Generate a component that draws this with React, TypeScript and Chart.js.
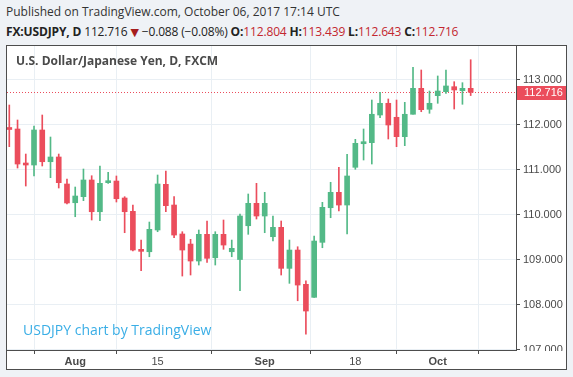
import React, { useEffect, useRef } from 'react';
import { Chart, registerables } from 'chart.js';

Chart.register(...registerables);

// ---- Data (daily candles, FX:USDJPY) ----
const dates = [
  '2017-07-20', '2017-07-21', '2017-07-24', '2017-07-25', '2017-07-26', '2017-07-27', '2017-07-28', '2017-07-31',
  '2017-08-01', '2017-08-02', '2017-08-03', '2017-08-04', '2017-08-07', '2017-08-08', '2017-08-09', '2017-08-10',
  '2017-08-11', '2017-08-14', '2017-08-15', '2017-08-16', '2017-08-17', '2017-08-18', '2017-08-21', '2017-08-22',
  '2017-08-23', '2017-08-24', '2017-08-25', '2017-08-28', '2017-08-29', '2017-08-30', '2017-08-31', '2017-09-01',
  '2017-09-04', '2017-09-05', '2017-09-06', '2017-09-07', '2017-09-08', '2017-09-11', '2017-09-12', '2017-09-13',
  '2017-09-14', '2017-09-15', '2017-09-18', '2017-09-19', '2017-09-20', '2017-09-21', '2017-09-22', '2017-09-25',
  '2017-09-26', '2017-09-27', '2017-09-28', '2017-09-29', '2017-10-02', '2017-10-03', '2017-10-04', '2017-10-05',
  '2017-10-06',
];

const opens = [
  111.933, 111.9, 111.133, 111.1, 111.878, 111.173, 111.278, 110.678,
  110.262, 110.396, 110.767, 110.062, 110.707, 110.744, 110.367, 110.071,
  109.227, 109.173, 109.656, 110.671, 110.211, 109.567, 109.344, 108.967,
  109.56, 109.04, 109.56, 109.173, 109.0, 109.751, 110.249, 109.967,
  109.507, 109.716, 108.804, 109.211, 108.449, 108.16, 109.382, 110.151,
  110.493, 110.211, 111.049, 111.573, 111.596, 112.211, 112.471, 112.16,
  111.729, 112.227, 112.804, 112.338, 112.64, 112.729, 112.84, 112.751,
  112.804,
];

const highs = [
  112.433, 112.1, 111.344, 111.967, 112.211, 111.722, 111.344, 110.789,
  110.611, 111.011, 110.862, 111.078, 110.938, 110.856, 110.396, 110.211,
  109.433, 109.833, 110.878, 110.967, 110.396, 109.618, 109.449, 109.656,
  109.856, 109.618, 109.878, 109.433, 110.011, 110.456, 110.693, 110.493,
  109.967, 109.856, 109.433, 109.284, 108.529, 109.522, 110.271, 110.716,
  111.049, 111.338, 111.671, 111.9, 112.544, 112.716, 112.567, 112.544,
  112.493, 113.271, 113.211, 112.744, 113.078, 113.211, 112.951, 112.929,
  113.439,
];

const lows = [
  111.507, 111.033, 110.633, 110.856, 111.078, 110.818, 110.589, 110.233,
  109.951, 110.307, 109.878, 109.862, 110.693, 110.278, 109.596, 109.189,
  108.751, 109.062, 109.618, 110.062, 109.484, 108.633, 108.656, 108.878,
  108.938, 108.878, 109.227, 109.062, 108.307, 109.56, 109.9, 109.596,
  109.411, 108.656, 108.471, 108.084, 107.344, 108.16, 109.262, 109.929,
  110.078, 109.567, 111.004, 111.211, 111.122, 112.151, 111.678, 111.507,
  111.529, 112.227, 112.284, 112.249, 112.471, 112.693, 112.344, 112.449,
  112.643,
];

const closes = [
  111.889, 111.122, 111.1, 111.878, 111.173, 111.278, 110.707, 110.256,
  110.411, 110.767, 110.062, 110.693, 110.744, 110.351, 110.062, 109.211,
  109.182, 109.671, 110.678, 110.196, 109.544, 109.211, 108.967, 109.56,
  109.027, 109.56, 109.322, 109.249, 109.967, 110.249, 109.967, 110.249,
  109.716, 108.804, 109.211, 108.433, 107.856, 109.411, 110.16, 110.493,
  110.211, 110.856, 111.582, 111.604, 112.227, 112.471, 111.989, 111.729,
  112.227, 112.804, 112.33, 112.471, 112.744, 112.856, 112.767, 112.804,
  112.716,
];

const yTickValues = [107, 108, 109, 110, 111, 112, 113];
const xTickDates = ['2017-08-01', '2017-08-15', '2017-09-01', '2017-09-18', '2017-10-02'];
const xTickLabels = ['Aug', '15', 'Sep', '18', 'Oct'];
const monthLabels = ['Aug', 'Sep', 'Oct'];
const lastPrice = 112.716;
const symbolTitle = 'U.S. Dollar/Japanese Yen, D, FXCM';
const watermark = 'USDJPY chart by TradingView';

const UP = '#53b987';
const DOWN = '#eb4d5c';
const GRID = '#e9eff4';
const AXIS = '#4d4d4d';
const TEXT = '#4a4a4a';
const RED_TXT = '#c3272f';

export default function App() {
  const ref = useRef<HTMLCanvasElement>(null);

  useEffect(() => {
    document.body.style.margin = '0';
    const canvas = ref.current;
    if (!canvas) return;

    const tickIdx = xTickDates.map((d) => dates.indexOf(d));
    const colors = closes.map((c, i) => (c >= opens[i] ? UP : DOWN));
    const wickData = dates.map((_, i) => ({ x: i, y: [lows[i], highs[i]] }));
    const bodyData = dates.map((_, i) => ({ x: i, y: [opens[i], closes[i]] }));

    const overlay = {
      id: 'tvOverlay',
      beforeDatasetsDraw(chart: any) {
        const { ctx, chartArea } = chart;
        const y = chart.scales.y.getPixelForValue(lastPrice);
        ctx.save();
        ctx.beginPath();
        ctx.rect(chartArea.left, chartArea.top, chartArea.right - chartArea.left, chartArea.bottom - chartArea.top);
        ctx.clip();
        ctx.strokeStyle = DOWN;
        ctx.lineWidth = 1;
        ctx.setLineDash([1, 2]);
        ctx.beginPath();
        const yy = Math.round(y) + 0.5;
        ctx.moveTo(chartArea.left, yy);
        ctx.lineTo(chartArea.right, yy);
        ctx.stroke();
        ctx.setLineDash([]);
        // watermark
        ctx.fillStyle = '#3aaee6';
        ctx.font = '14px "Open Sans", sans-serif';
        ctx.textBaseline = 'middle';
        ctx.textAlign = 'left';
        ctx.fillText(watermark, chartArea.left + 16, chartArea.bottom - 19);
        ctx.restore();
      },
      afterDraw(chart: any) {
        const { ctx, chartArea, width, height } = chart;
        ctx.save();
        // hide axis label overflow below the price pane
        ctx.fillStyle = '#ffffff';
        ctx.fillRect(chartArea.right + 1, chartArea.bottom + 1, width - chartArea.right - 1, height - chartArea.bottom - 1);
        // symbol title
        ctx.fillStyle = TEXT;
        ctx.font = 'bold 12px "Open Sans", sans-serif';
        ctx.textBaseline = 'middle';
        ctx.textAlign = 'left';
        ctx.fillText(symbolTitle, chartArea.left + 9, chartArea.top + 16);
        // last price label
        const y = chart.scales.y.getPixelForValue(lastPrice);
        ctx.fillStyle = DOWN;
        ctx.fillRect(chartArea.right + 1, Math.round(y) - 6, width - chartArea.right - 1, 14);
        ctx.fillStyle = '#ffffff';
        ctx.font = '11px "Liberation Sans", Arial, sans-serif';
        ctx.fillText(lastPrice.toFixed(3), chartArea.right + 8, Math.round(y) + 1);
        ctx.restore();
      },
    };

    const chart = new Chart(canvas, {
      type: 'bar',
      data: {
        datasets: [
          {
            label: 'wick',
            data: wickData as any,
            backgroundColor: colors,
            borderWidth: 0,
            barThickness: 1,
            grouped: false,
            order: 1,
          } as any,
          {
            label: 'body',
            data: bodyData as any,
            backgroundColor: colors,
            borderWidth: 0,
            barThickness: 5,
            minBarLength: 2,
            grouped: false,
            order: 0,
          } as any,
        ],
      },
      options: {
        animation: false,
        responsive: false,
        events: [],
        layout: { padding: 0 },
        plugins: { legend: { display: false }, tooltip: { enabled: false }, title: { display: false } },
        scales: {
          x: {
            type: 'linear',
            min: -0.279,
            max: 61.5,
            offset: false,
            grid: { color: GRID, tickColor: AXIS, tickLength: 4, drawTicks: true },
            border: { color: AXIS, width: 1 },
            afterBuildTicks: (s: any) => {
              s.ticks = tickIdx.map((v) => ({ value: v }));
            },
            afterFit: (s: any) => {
              s.height = 19;
              s.paddingLeft = 0;
              s.paddingRight = 0;
            },
            ticks: {
              autoSkip: false,
              maxRotation: 0,
              padding: 1,
              color: TEXT,
              font: (c: any) => ({
                family: '"Liberation Sans", Arial, sans-serif',
                size: 11,
                weight: c.tick && monthLabels.includes(c.tick.label) ? 'bold' : 'normal',
              }),
              callback: (v: any) => {
                const k = tickIdx.indexOf(Number(v));
                return k >= 0 ? xTickLabels[k] : '';
              },
            },
          },
          y: {
            position: 'right',
            min: 106.99,
            max: 113.744,
            grid: { color: GRID, tickColor: AXIS, tickLength: 4, drawTicks: true },
            border: { color: AXIS, width: 1 },
            afterBuildTicks: (s: any) => {
              s.ticks = yTickValues.map((v) => ({ value: v }));
            },
            afterFit: (s: any) => {
              s.width = 50;
              s.paddingTop = 0;
              s.paddingBottom = 0;
            },
            ticks: {
              padding: 3,
              color: TEXT,
              font: { family: '"Liberation Sans", Arial, sans-serif', size: 11 },
              callback: (v: any) => Number(v).toFixed(3),
            },
          },
        },
      },
      plugins: [overlay],
    });

    return () => chart.destroy();
  }, []);

  const red = { color: RED_TXT };
  return (
    <div
      style={{
        position: 'relative',
        width: 573,
        height: 377,
        background: '#eff2f6',
        overflow: 'hidden',
        fontFamily: '"Open Sans", sans-serif',
      }}
    >
      <div style={{ position: 'absolute', left: 6, top: 3, fontSize: 12, color: '#333', whiteSpace: 'nowrap' }}>
        Published on TradingView.com, October 06, 2017 17:14 UTC
      </div>
      <div
        style={{
          position: 'absolute',
          left: 6,
          top: 23,
          fontSize: 12,
          color: '#222',
          whiteSpace: 'nowrap',
          letterSpacing: '-0.15px',
        }}
      >
        <b>FX:USDJPY, D</b> 112.716 <span style={{ color: '#a51d1d', fontFamily: '"DejaVu Sans"', fontSize: 11 }}>▼</span>{' '}
        −0.088 (−0.08%) <b>O:</b>
        <span style={red}>112.804</span> <b>H:</b>
        <span style={red}>113.439</span> <b>L:</b>
        <span style={red}>112.643</span> <b>C:</b>
        <span style={red}>112.716</span>
      </div>
      <div
        style={{
          position: 'absolute',
          left: 6,
          top: 45,
          width: 559,
          height: 323,
          border: '1px solid ' + AXIS,
          background: '#ffffff',
        }}
      >
        <canvas ref={ref} width={559} height={323} style={{ display: 'block', width: 559, height: 323 }} />
      </div>
    </div>
  );
}
